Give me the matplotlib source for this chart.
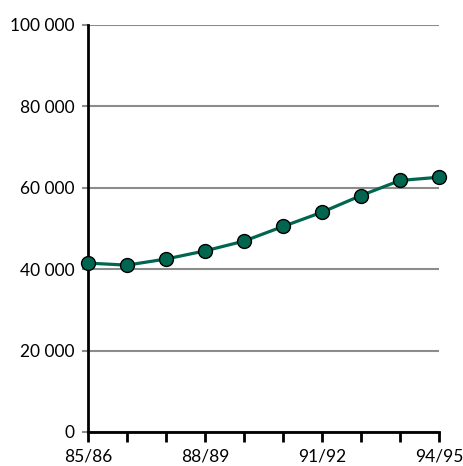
import matplotlib
matplotlib.use('Agg')
import matplotlib.pyplot as plt
import numpy as np

plt.rcParams['font.family'] = ['Lato', 'DejaVu Sans']

# school years and values
years = ['85/86', '86/87', '87/88', '88/89', '89/90', '90/91', '91/92', '92/93', '93/94', '94/95']
values = [41500, 41000, 42500, 44500, 46900, 50500, 54000, 58100, 61800, 62600]
shown_labels = ['85/86', '88/89', '91/92', '94/95']
y_ticks = [0, 20000, 40000, 60000, 80000, 100000]


def fmt(v):
	return '{:,}'.format(v).replace(',', ' ')


def plot_series():
	fig = plt.figure(figsize=(4.64, 4.66), dpi=100)
	ax = fig.add_axes([88/464, 1 - 432/466, (439 - 88)/464, (432 - 25)/466])

	x = np.arange(len(years))
	ax.plot(x, values, color='#00664f', lw=2.3, marker='o', ms=10,
			mfc='#00664f', mec='black', mew=1.0, clip_on=False, zorder=5)

	ax.set_xlim(0, len(years) - 1)
	ax.set_ylim(0, 100000)

	ax.set_yticks(y_ticks)
	ax.set_yticklabels([fmt(v) for v in y_ticks])
	ax.yaxis.grid(True, color='#8c8c8c', lw=1.5)
	ax.set_axisbelow(True)

	ax.set_xticks(x)
	ax.set_xticklabels([y if y in shown_labels else '' for y in years])

	for side in ['top', 'right']:
		ax.spines[side].set_visible(False)
	for side in ['left', 'bottom']:
		ax.spines[side].set_linewidth(2)
		ax.spines[side].set_color('black')
	ax.spines['bottom'].set_zorder(4)

	ax.tick_params(axis='x', direction='out', length=7, width=2, color='black', pad=5, labelsize=12.5)
	ax.tick_params(axis='y', direction='out', length=4.5, width=1.5, color='#8c8c8c', pad=5, labelsize=12.5)
	ax.yaxis.get_major_ticks()[0].tick1line.set_color('black')

	fig.savefig('out.png', dpi=100)


def main():
	plot_series()


if __name__ == "__main__":
	main()
